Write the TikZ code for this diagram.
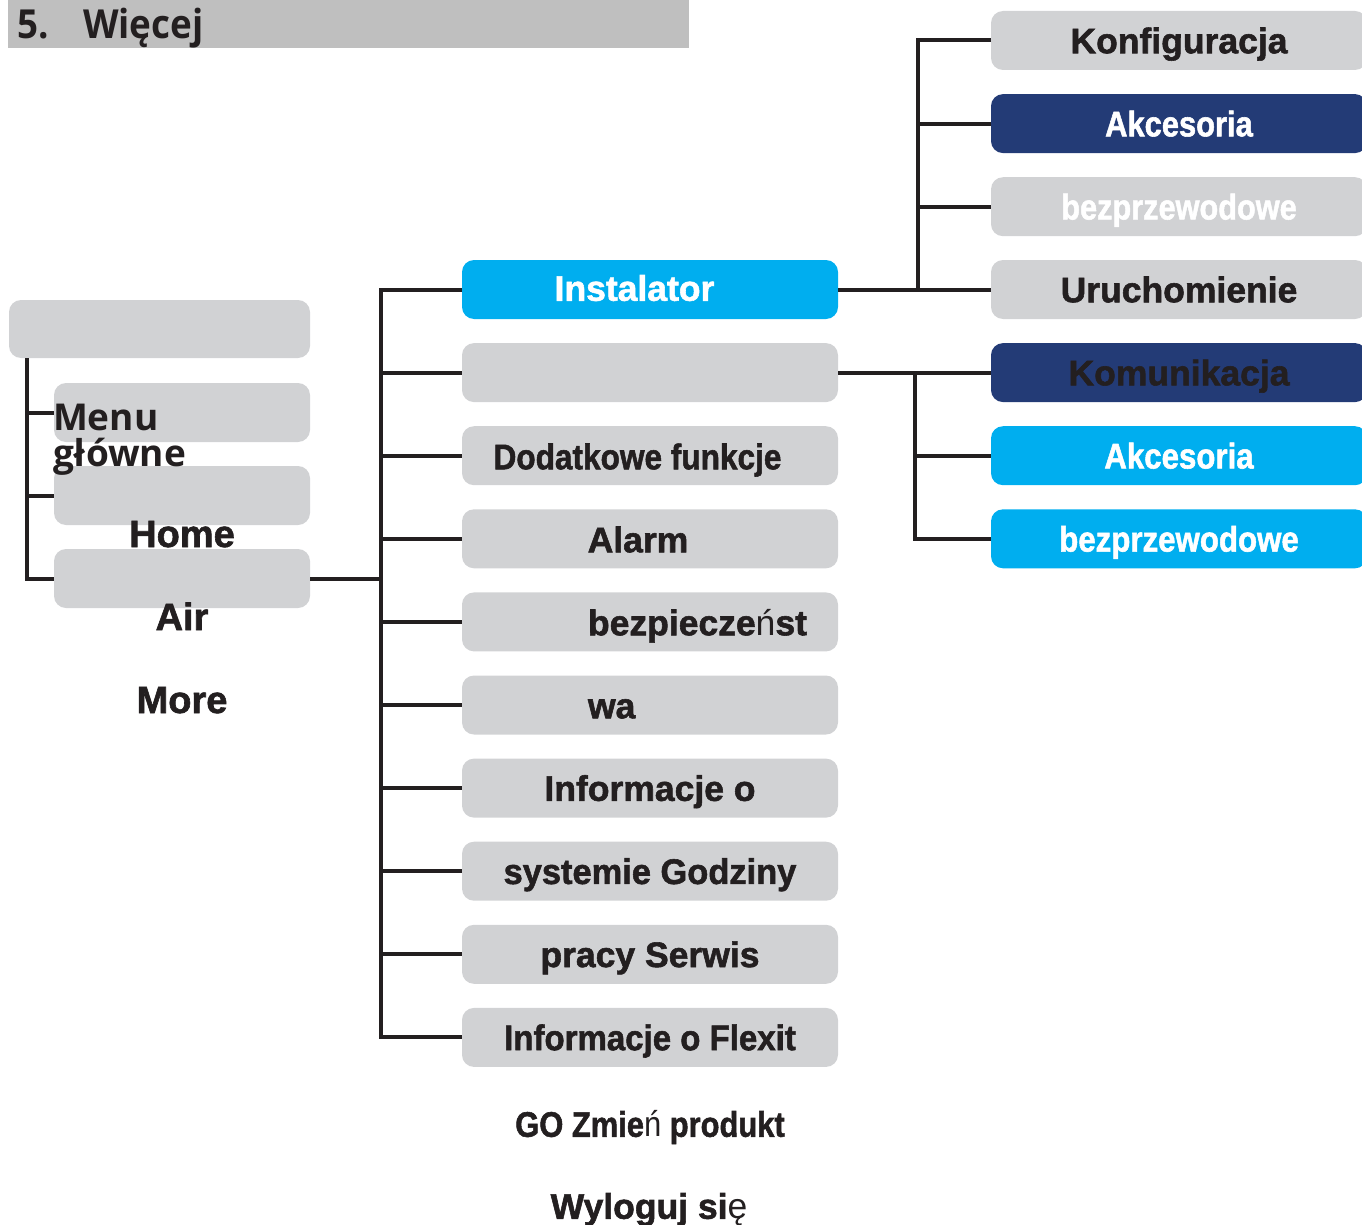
\documentclass[tikz,border=0pt]{standalone}
\usepackage{fontspec}
\setmainfont{Liberation Sans}[BoldFeatures={FakeBold=1.6}]
\newfontfamily\headfont{Open Sans}[FakeStretch=0.92]
\newfontfamily\menuface{Open Sans}
\definecolor{ink}{HTML}{231F20}
\definecolor{boxgrey}{HTML}{D1D2D4}
\definecolor{headgrey}{HTML}{BFBFBF}
\definecolor{skyblue}{HTML}{00AEEF}
\definecolor{navyblue}{HTML}{233B76}
\newcommand\labfont{\fontsize{35.5}{40}\selectfont\bfseries}
\newcommand\menufont{\menuface\fontsize{37}{36}\selectfont\bfseries}
\newcommand\bigfont{\fontsize{38}{40}\selectfont\bfseries}
\newcommand\narrow[2]{\scalebox{#1}[1]{#2}}
\begin{document}
\begin{tikzpicture}[x=1pt,y=-1pt,
  every node/.style={inner sep=0pt, outer sep=0pt},
  box/.style={rectangle, rounded corners=12pt, minimum height=59pt,
    text height=25.5pt, text depth=0pt, font=\labfont, text=ink},
  midbox/.style={box, minimum width=376pt},
  sidebox/.style={box, minimum width=256pt},
  greybox/.style={fill=boxgrey},
  cyanbox/.style={fill=skyblue, text=white},
  navybox/.style={fill=navyblue},
  lab/.style={font=\labfont, text=ink, text height=25.5pt, text depth=0pt},
  link/.style={draw=ink, line width=4pt}]

\useasboundingbox (0,0) rectangle (1362,1225);

% heading bar
\node[fill=headgrey, minimum width=681pt, minimum height=48pt, anchor=north west] (head) at (8,0) {};
\node[anchor=base west, font=\headfont\fontsize{40}{40}\selectfont\bfseries, text=ink] (hnum) at (17,39) {5.};
\node[anchor=base west, font=\headfont\fontsize{40}{40}\selectfont\bfseries, text=ink] (htitle) at (83,39) {Więcej};

% left column
\node[box, greybox, minimum width=301pt, minimum height=58pt] (L0) at (159.5,329) {};
\node[sidebox, greybox] (L1) at (182,412.5) {};
\node[sidebox, greybox] (L2) at (182,495.5) {};
\node[sidebox, greybox] (L3) at (182,578.5) {};
\node[anchor=base west, font=\menufont, text=ink] (menu) at (53,430) {Menu};
\node[anchor=base west, font=\menufont, text=ink] (menu2) at (53,466) {główne};
\node[anchor=base, font=\bigfont, text=ink] (home) at (182,547) {Home};
\node[anchor=base, font=\bigfont, text=ink] (air) at (182,630) {Air};
\node[anchor=base, font=\bigfont, text=ink] (more) at (182,713) {More};

% middle column
\node[midbox, cyanbox] (m1) at (650,289.5) {};
\node[lab, text=white] (t1) at (634.5,288) {Instalator};
\node[midbox, greybox] (m2) at (650,372.6) {};
\node[midbox, greybox] (m3) at (650,455.7) {};
\node[lab] (t3) at (637.5,456.5) {\narrow{0.89}{Dodatkowe funkcje}};
\node[midbox, greybox] (m4) at (650,538.8) {};
\node[lab] (t4) at (638,539.5) {Alarm};
\node[midbox, greybox] (m5) at (650,621.9) {};
\node[lab, anchor=west] (t5) at (588,622.5) {bezpiecze{\mdseries ń}st};
\node[midbox, greybox] (m6) at (650,705) {};
\node[lab, anchor=west] (t6) at (588,705.5) {wa};
\node[midbox, greybox] (m7) at (650,788.1) {Informacje o};
\node[midbox, greybox] (m8) at (650,871.2) {\narrow{0.97}{systemie Godziny}};
\node[midbox, greybox] (m9) at (650,954.3) {pracy Serwis};
\node[midbox, greybox] (m10) at (650,1037.4) {\narrow{0.93}{Informacje o Flexit}};
\node[lab] (go) at (650,1124) {\narrow{0.87}{GO Zmie{\mdseries ń} produkt}};
\node[lab] (logout) at (649,1206) {Wyloguj si{\mdseries ę}};

% right column
\node[midbox, greybox] (r1) at (1179,40.5) {Konfiguracja};
\node[midbox, navybox, text=white] (r2) at (1179,123.6) {\narrow{0.87}{Akcesoria}};
\node[midbox, greybox, text=white] (r3) at (1179,206.7) {\narrow{0.865}{bezprzewodowe}};
\node[midbox, greybox] (r4) at (1179,289.5) {Uruchomienie};
\node[midbox, navybox] (r5) at (1179,372.6) {Komunikacja};
\node[midbox, cyanbox] (r6) at (1179,455.7) {\narrow{0.88}{Akcesoria}};
\node[midbox, cyanbox] (r7) at (1179,538.8) {\narrow{0.88}{bezprzewodowe}};

% bus positions
\coordinate (lt) at ([xshift=18pt]L0.south west);
\coordinate (mb) at (381,0);
\coordinate (ub) at (918,0);
\coordinate (lb) at (915,0);

% left tree
\draw[link] (lt) |- (L3.west);
\draw[link] (lt |- L1.west) -- (L1.west);
\draw[link] (lt |- L2.west) -- (L2.west);
\draw[link] (L3.east) -- (mb |- L3.east);

% middle tree
\draw[link] (m1.west) -- (mb |- m1.west) -- (mb |- m10.west) -- (m10.west);
\foreach \n in {m2,m3,m4,m5,m6,m7,m8,m9}
  \draw[link] (mb |- \n.west) -- (\n.west);

% upper right tree
\draw[link] (m1.east) -- (r4.west);
\draw[link] (r1.west) -- (ub |- r1.west) -- (ub |- r4.west);
\draw[link] (ub |- r2.west) -- (r2.west);
\draw[link] (ub |- r3.west) -- (r3.west);

% lower right tree
\draw[link] (m2.east) -- (r5.west);
\draw[link] (lb |- r5.west) -- (lb |- r7.west) -- (r7.west);
\draw[link] (lb |- r6.west) -- (r6.west);
\end{tikzpicture}
\end{document}
